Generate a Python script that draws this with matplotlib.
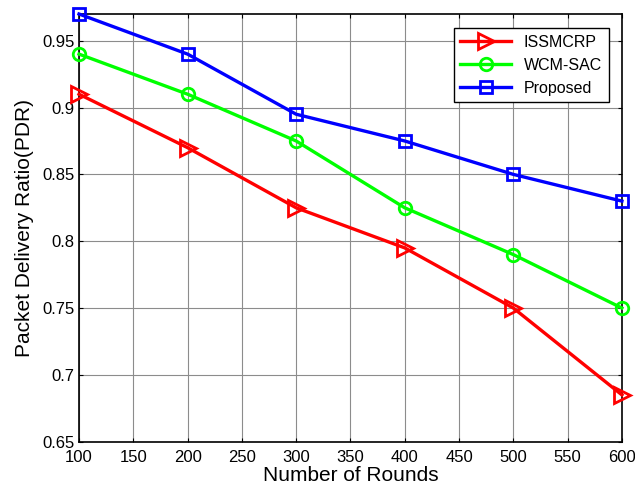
import matplotlib
matplotlib.use("Agg")
import matplotlib.pyplot as plt

rounds = [100, 200, 300, 400, 500, 600]
issmcrp = [0.91, 0.87, 0.825, 0.795, 0.75, 0.685]
wcm_sac = [0.94, 0.91, 0.875, 0.825, 0.79, 0.75]
proposed = [0.97, 0.94, 0.895, 0.875, 0.85, 0.83]

plt.rcParams['font.family'] = ['Liberation Sans', 'DejaVu Sans']

fig = plt.figure(figsize=(6.35, 4.88), dpi=100)
ax = fig.add_axes([0.1244, 0.0949, 0.855, 0.8764])

ax.plot(rounds, issmcrp, color='#ff0000', lw=2.4, marker='>', ms=12, mew=2,
        mfc='none', label='ISSMCRP', clip_on=False, zorder=3)
ax.plot(rounds, wcm_sac, color='#00ff00', lw=2.4, marker='o', ms=9, mew=2,
        mfc='none', label='WCM-SAC', clip_on=False, zorder=3)
ax.plot(rounds, proposed, color='#0000ff', lw=2.4, marker='s', ms=9, mew=2,
        mfc='none', label='Proposed', clip_on=False, zorder=3)

ax.set_xlim(100, 600)
ax.set_ylim(0.65, 0.97)
ax.set_xticks(range(100, 601, 50))
ax.set_yticks([0.65, 0.7, 0.75, 0.8, 0.85, 0.9, 0.95])
ax.set_yticklabels(['0.65', '0.7', '0.75', '0.8', '0.85', '0.9', '0.95'])
ax.grid(True, color='#8c8c8c', lw=0.8)
ax.set_axisbelow(True)
ax.tick_params(direction='in', length=3, labelsize=12, top=True, right=True)
ax.tick_params(axis='x', pad=6)
ax.tick_params(axis='y', pad=3)
for s in ax.spines.values():
    s.set_linewidth(1.2)

ax.set_xlabel('Number of Rounds', fontsize=15, labelpad=1)
ax.set_ylabel('Packet Delivery Ratio(PDR)', fontsize=15, labelpad=6)

leg = ax.legend(loc='upper right', fontsize=11.5, fancybox=False, framealpha=1,
                edgecolor='black', borderpad=0.4, handlelength=3.2,
                bbox_to_anchor=(0.99, 0.985))
leg.get_frame().set_linewidth(1.0)

fig.savefig('out.png', dpi=100)
